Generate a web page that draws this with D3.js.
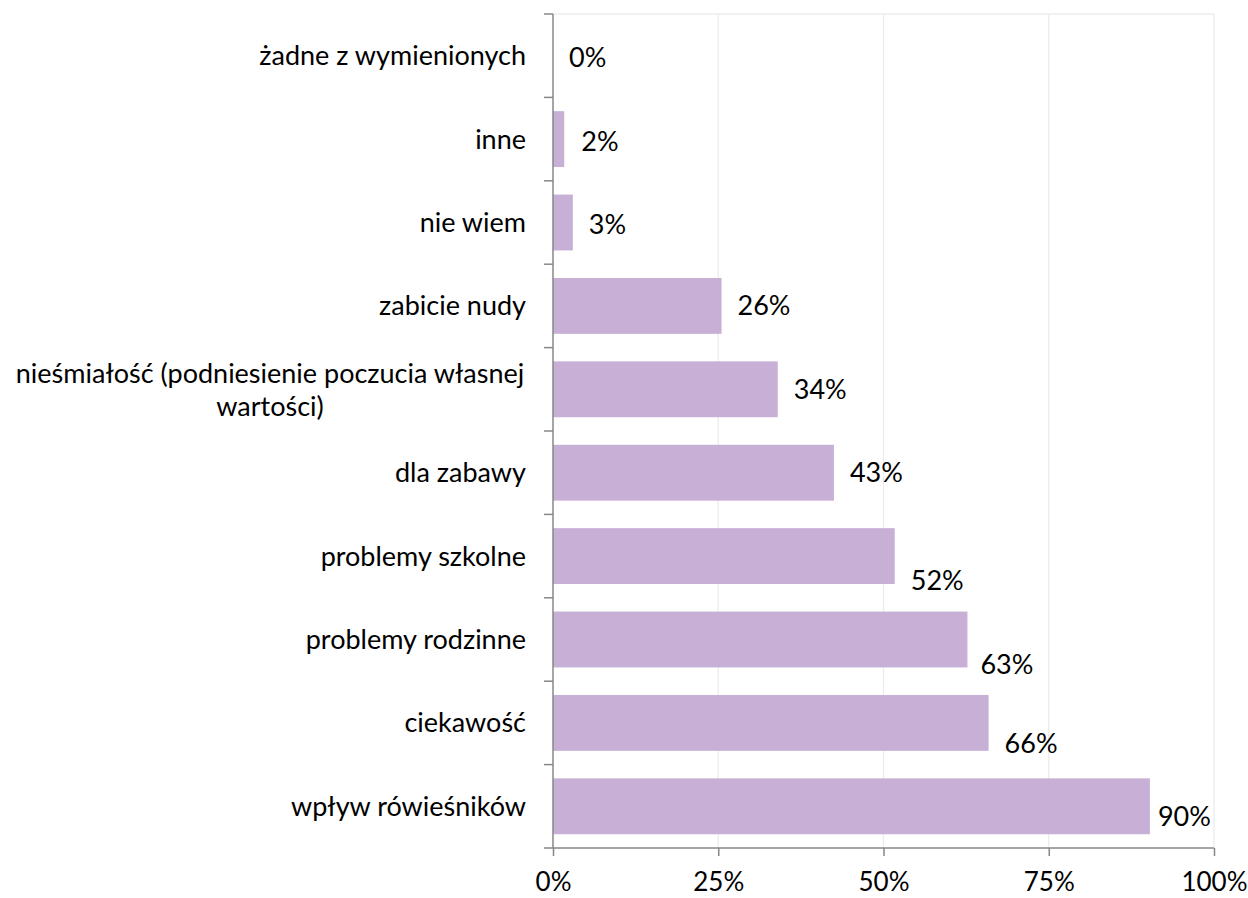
<!DOCTYPE html>
<html><head><meta charset="utf-8">
<script src="https://cdn.jsdelivr.net/npm/d3@7"></script>
<style>body{margin:0;background:#fff;} svg{display:block;} text{font-family:Lato,"Open Sans",sans-serif;fill:#000;}</style>
</head><body>
<svg id="c" width="1248" height="898"></svg>
<script>
const categories = ["żadne z wymienionych","inne","nie wiem","zabicie nudy","nieśmiałość (podniesienie poczucia własnej wartości)","dla zabawy","problemy szkolne","problemy rodzinne","ciekawość","wpływ rówieśników"];
const values = [0, 2, 3, 26, 34, 43, 52, 63, 66, 90];
const barValues = [0, 1.7, 3.0, 25.5, 34.0, 42.5, 51.7, 62.7, 65.9, 90.3];
const tickValues = [0, 25, 50, 75, 100];

const FS = 27;
const svg = d3.select("#c");
const m = {left:553, right:1214, top:14, bottom:848};
const x = d3.scaleLinear().domain([0,100]).range([m.left, m.right]);
const y = d3.scaleBand().domain(categories).range([m.top, m.bottom]).paddingInner(0.33).paddingOuter(0.165);
const yb = d3.scaleBand().domain(categories).range([m.top, m.bottom]);

// gridlines
svg.append("g").selectAll("line").data(tickValues.slice(1)).join("line")
  .attr("x1", d=>x(d)).attr("x2", d=>x(d)).attr("y1", m.top).attr("y2", m.bottom)
  .attr("stroke", "#ececec").attr("stroke-width", 1.3);
svg.append("line").attr("x1", m.left).attr("x2", m.right).attr("y1", m.top).attr("y2", m.top)
  .attr("stroke", "#ececec").attr("stroke-width", 1.3);

// bars
svg.append("g").selectAll("rect").data(categories).join("rect")
  .attr("x", x(0)).attr("y", d=>y(d)).attr("height", y.bandwidth())
  .attr("width", (d,i)=>x(barValues[i]) - x(0)).attr("fill", "#c8afd6");

// axes
const xAxis = d3.axisBottom(x).tickValues(tickValues).tickFormat(d=>d+"%").tickSize(8).tickPadding(17);
const gx = svg.append("g").attr("transform", `translate(0,${m.bottom})`).call(xAxis);
gx.selectAll("path,line").attr("stroke", "#878787").attr("stroke-width", 1.5);
gx.selectAll("text").attr("font-size", 26).attr("font-family", "Lato").attr("fill","#000");
gx.select(".domain").attr("d", `M${m.left},0H${m.right}`);

const gy = svg.append("g").attr("transform", `translate(${m.left},0)`);
gy.append("line").attr("x1",0).attr("x2",0).attr("y1",m.top).attr("y2",m.bottom).attr("stroke","#878787").attr("stroke-width",1.5);
const bounds = categories.map(c=>yb(c)).concat([m.bottom]);
gy.selectAll("line.t").data(bounds).join("line").attr("class","t")
  .attr("x1",-9).attr("x2",0).attr("y1",d=>d).attr("y2",d=>d).attr("stroke","#878787").attr("stroke-width",1.5);

// category labels
const lab = svg.append("g");
categories.forEach((c,i)=>{
  const cy = yb(c) + yb.bandwidth()/2;
  if (c.startsWith("nieśmiałość")) {
    const t = lab.append("text").attr("text-anchor","middle").attr("font-size",FS).attr("x", 270);
    t.append("tspan").attr("x",270).attr("y", cy-16).attr("dy","0.35em").text("nieśmiałość (podniesienie poczucia własnej");
    t.append("tspan").attr("x",270).attr("y", cy+17).attr("dy","0.35em").text("wartości)");
  } else {
    lab.append("text").attr("text-anchor","end").attr("font-size",FS)
      .attr("x", m.left-27).attr("y", cy).attr("dy","0.35em").text(c);
  }
});

// value labels (offsets mimic the manually placed labels of the original)
const labelDx = [16,17,16,16,16,16,16,13,16,8];
const labelDy = [2,2,2,0,0,0,24,25,21,10];
svg.append("g").selectAll("text").data(categories).join("text")
  .attr("font-size", FS)
  .attr("x", (d,i)=>x(barValues[i]) + labelDx[i])
  .attr("y", (d,i)=>yb(d)+yb.bandwidth()/2 + labelDy[i])
  .attr("dy","0.35em").text((d,i)=>values[i]+"%");
</script>
</body></html>
